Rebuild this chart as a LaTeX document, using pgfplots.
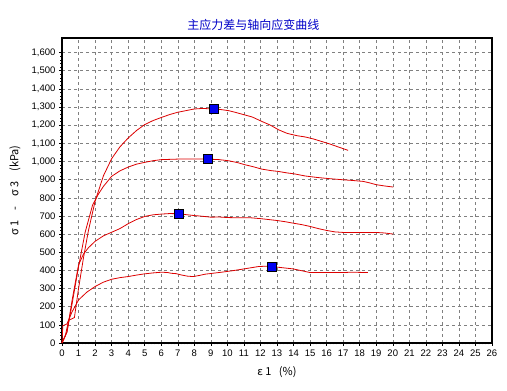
\documentclass[border=0pt]{standalone}
\usepackage{pgfplots}
\pgfplotsset{compat=1.18}
\usepackage{fontspec}
\setmainfont{Liberation Sans}
\newfontfamily\cjk{Noto Sans CJK SC}
\definecolor{cline}{RGB}{220,0,0}
\definecolor{cmark}{RGB}{0,0,240}
\definecolor{ctitle}{RGB}{0,0,200}
\begin{document}
\begin{tikzpicture}[x=1pt,y=1pt]
\path[use as bounding box] (-62,-48) rectangle (445,343);
\begin{axis}[
  at={(0,0)}, anchor=south west,
  scale only axis, width=430pt, height=305pt,
  xmin=0, xmax=26, ymin=0, ymax=1680,
  xtick={0,1,...,26}, ytick={0,100,...,1600},
  minor x tick num=4, minor y tick num=4,
  xtick pos=bottom, ytick pos=left,
  tick align=outside, major tick length=3pt, minor tick length=1.5pt,
  grid=major,
  major grid style={gray, dash pattern=on 3pt off 3pt, line width=0.5pt},
  axis line style={line width=1.2pt},
  tick style={black, line width=0.5pt},
  ticklabel style={font=\fontsize{9.5}{10}\selectfont},
  /pgf/number format/assume math mode=true,
  /pgf/number format/1000 sep={,},
  scaled y ticks=false,
  xlabel={\cjk ε 1\ \ \ (\%)},
  ylabel={\cjk σ 1\ \ \ \ -\ \ \ \ σ 3\ \ \ \ (kPa)},
  xlabel style={at={(axis description cs:0.5,-0.0951)}, anchor=center, font=\fontsize{11}{13}\selectfont},
  ylabel style={at={(axis description cs:-0.1093,0.5)}, anchor=center, font=\fontsize{11}{13}\selectfont},
  clip=false,
]
\addplot[cline, line width=0.8pt] coordinates {
(0,0)(0.2,40)(0.4,125)(0.75,140)(1.0,300)(1.3,470)(1.6,620)(2.0,780)(2.5,920)(3.0,1015)(3.5,1080)(4.0,1129)(4.5,1170)(5.0,1203)(5.5,1225)(6.0,1242)(6.5,1258)(7.0,1271)(7.5,1280)(8.0,1289)(8.5,1292)(9.15,1289)(9.6,1286)(10.06,1280)(10.5,1270)(11.06,1256)(11.5,1245)(12.07,1221)(12.6,1200)(13.08,1175)(13.6,1155)(14.2,1142)(14.7,1135)(15.2,1124)(15.7,1110)(16.2,1096)(16.7,1080)(17.3,1061)
};
\addplot[cline, line width=0.8pt] coordinates {
(0,0)(0.3,60)(0.6,210)(1.0,420)(1.4,610)(1.85,760)(2.2,820)(2.5,862)(3.0,918)(3.5,948)(4.0,969)(4.5,985)(5.0,995)(5.5,1004)(6.0,1010)(7.0,1013)(8.0,1013)(8.79,1013)(9.5,1010)(10.06,1004)(10.6,994)(11.06,982)(11.6,970)(12.07,958)(12.6,950)(13.08,945)(13.6,937)(14.09,931)(14.7,920)(15.4,912)(16.2,905)(17.0,899)(17.6,895)(18.22,890)(18.6,882)(19.0,872)(19.5,865)(20.03,859)
};
\addplot[cline, line width=0.8pt] coordinates {
(0,0)(0.3,60)(0.6,230)(1.0,430)(1.3,490)(1.6,525)(2.0,560)(2.5,590)(3.0,610)(3.5,630)(4.0,657)(4.5,680)(5.0,697)(5.5,706)(6.0,710)(6.5,713)(7.06,712)(7.5,707)(8.0,702)(8.5,698)(9.0,693)(9.5,694)(10.0,691)(10.5,690)(11.37,690)(12.0,685)(12.98,675)(13.5,668)(13.98,660)(14.5,652)(15.0,642)(15.5,630)(16.0,620)(16.5,612)(17.0,609)(18.0,609)(19.0,609)(19.5,606)(20.03,600)
};
\addplot[cline, line width=0.8pt] coordinates {
(0,0)(0.05,95)(0.3,105)(0.6,170)(1.0,237)(1.5,280)(2.0,311)(2.5,335)(3.0,351)(3.5,360)(4.0,366)(4.5,374)(5.0,381)(5.5,386)(6.03,390)(6.4,388)(6.6,384)(6.9,382)(7.2,375)(7.6,368)(7.94,366)(8.3,372)(8.65,379)(9.2,385)(9.65,390)(10.3,398)(10.86,406)(11.4,414)(11.87,421)(12.3,423)(12.71,421)(13.2,416)(13.98,408)(14.5,398)(15.0,388)(16.0,388)(17.0,388)(17.5,390)(18.0,389)(18.5,388)
};
\addplot[only marks, mark=square*, mark size=4.5pt, mark options={fill=cmark, draw=black, line width=0.6pt}] coordinates {
(9.15,1289)(8.79,1013)(7.06,712)(12.71,421)
};
\end{axis}
\node[font=\cjk\fontsize{12}{14}\selectfont, text=ctitle] at (191.5,318) {主应力差与轴向应变曲线};
\end{tikzpicture}
\end{document}
